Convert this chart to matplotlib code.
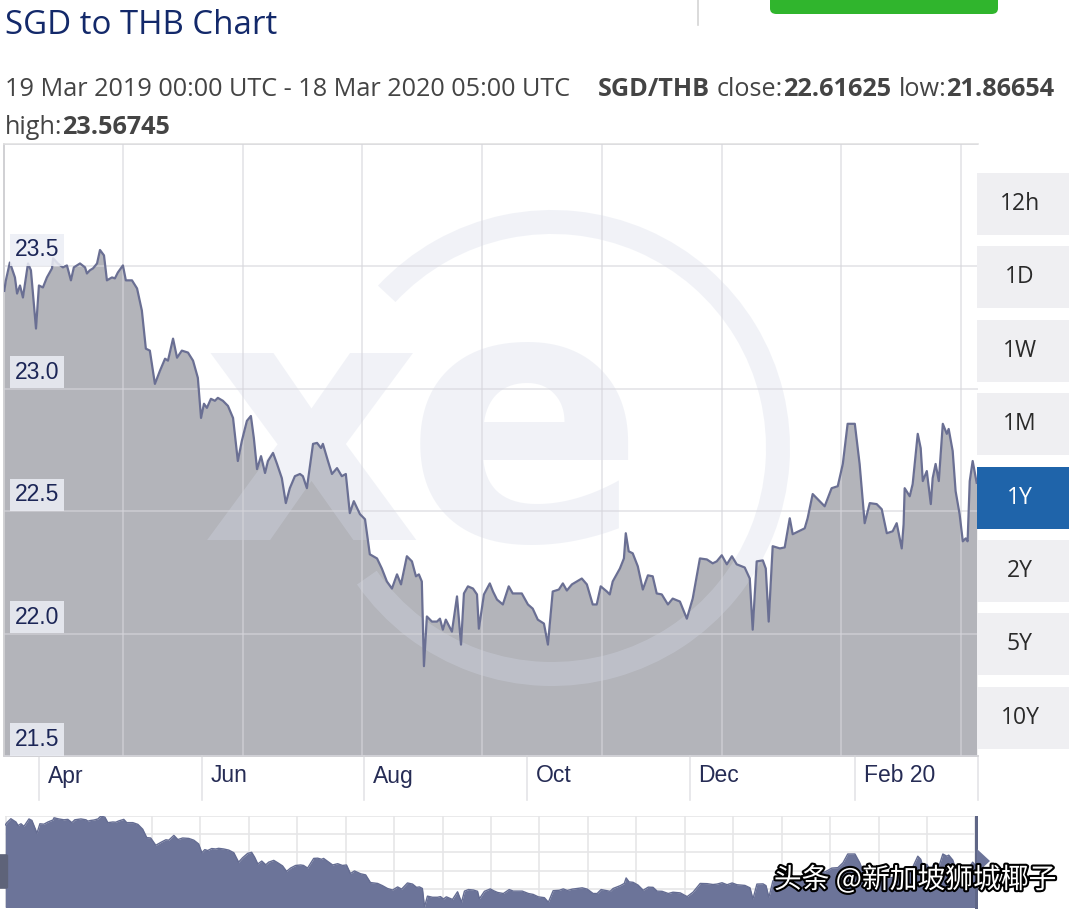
import numpy as np
import pandas as pd
import matplotlib
matplotlib.use('Agg')
import matplotlib.pyplot as plt
import matplotlib.transforms as mtransforms
import matplotlib.patheffects as pe
from matplotlib.patches import Rectangle, FancyBboxPatch, Wedge, Polygon

W, H = 1080, 918


def fx(x):
    return x / W


def fy(y):
    return 1 - y / H


# ---- data ----
start = pd.Timestamp('2019-03-19')
month_starts = ['2019-04-01', '2019-06-01', '2019-08-01', '2019-10-01', '2019-12-01', '2020-02-01']
month_labels = ['Apr', 'Jun', 'Aug', 'Oct', 'Dec', 'Feb 20']
y_ticks = [21.5, 22.0, 22.5, 23.0, 23.5]
range_buttons = ['12h', '1D', '1W', '1M', '1Y', '2Y', '5Y', '10Y']
selected = '1Y'

# days since 19 Mar 2019
days = [0, 0.6, 2.1, 4.0, 4.8, 5.9, 7.0, 8.9, 10.0, 11.9,
        13.0, 14.5, 16.0, 17.9, 18.3, 20.1, 22.0, 23.5, 25.0, 26.1,
        28.4, 30.3, 31.0, 32.1, 33.3, 34.8, 35.9, 37.4, 38.5, 40.4,
        41.5, 42.6, 44.5, 45.6, 47.9, 49.8, 51.6, 53.1, 54.6, 56.5,
        58.4, 60.3, 61.4, 63.3, 64.8, 66.6, 68.9, 70.8, 72.6, 73.8,
        74.9, 76.0, 77.5, 79.0, 80.1, 82.0, 83.9, 85.8, 87.6, 89.1,
        91.0, 92.5, 93.6, 94.8, 96.3, 97.8, 98.9, 100.8, 102.3, 104.1,
        105.6, 107.1, 109.0, 110.9, 112.0, 113.5, 115.8, 117.3, 118.8, 119.5,
        121.4, 122.9, 124.8, 126.6, 128.1, 129.6, 131.1, 133.4, 135.3, 137.1,
        139.8, 141.6, 143.5, 145.4, 147.3, 148.8, 151.0, 152.9, 154.4, 155.5,
        156.6, 157.4, 158.5, 160.4, 162.3, 163.4, 164.5, 165.6, 167.9, 169.8,
        171.3, 172.4, 173.9, 175.8, 177.3, 178.0, 179.9, 182.1, 183.3, 184.8,
        187.0, 189.2, 190.7, 194.1, 196.4, 198.2, 200.1, 202.4, 203.9, 205.7,
        208.0, 209.5, 211.0, 212.9, 216.6, 218.5, 220.7, 222.2, 223.7, 226.0,
        227.1, 228.2, 230.9, 232.4, 233.1, 234.2, 235.7, 237.6, 239.5, 241.4,
        243.2, 244.7, 246.6, 248.9, 250.7, 253.4, 256.0, 258.2, 260.9, 263.5,
        265.7, 267.2, 269.1, 271.0, 272.9, 274.7, 277.7, 279.6, 280.7, 282.2,
        284.5, 285.6, 286.7, 288.2, 290.9, 292.7, 294.6, 295.7, 300.2, 301.3,
        303.2, 305.1, 307.7, 310.3, 312.6, 314.5, 316.3, 319.0, 320.8, 322.7,
        324.6, 327.2, 329.1, 331.0, 333.2, 334.7, 336.6, 337.3, 337.7, 339.6,
        340.7, 342.6, 343.7, 344.5, 346.0, 347.5, 348.2, 349.3, 350.5, 352.0,
        353.5, 354.2, 355.7, 356.8, 358.3, 359.5, 360.6, 361.3, 362.1, 363.2,
        364.7]

rates = [23.400, 23.443, 23.516, 23.455, 23.389, 23.422, 23.373, 23.512, 23.484, 23.246,
         23.422, 23.414, 23.455, 23.492, 23.533, 23.512, 23.496, 23.504, 23.443, 23.496,
         23.512, 23.496, 23.471, 23.484, 23.492, 23.512, 23.567, 23.545, 23.443, 23.455,
         23.451, 23.475, 23.504, 23.443, 23.443, 23.410, 23.320, 23.164, 23.156, 23.020,
         23.074, 23.123, 23.115, 23.205, 23.127, 23.156, 23.148, 23.115, 23.045, 22.881,
         22.939, 22.922, 22.959, 22.951, 22.963, 22.951, 22.930, 22.881, 22.705, 22.787,
         22.869, 22.889, 22.799, 22.672, 22.725, 22.656, 22.705, 22.738, 22.693, 22.635,
         22.533, 22.594, 22.643, 22.652, 22.643, 22.594, 22.775, 22.779, 22.758, 22.775,
         22.705, 22.652, 22.676, 22.643, 22.652, 22.492, 22.541, 22.488, 22.467, 22.324,
         22.307, 22.266, 22.213, 22.184, 22.242, 22.201, 22.316, 22.295, 22.234, 22.242,
         22.213, 21.867, 22.070, 22.049, 22.049, 22.061, 22.016, 22.057, 22.008, 22.152,
         21.955, 22.164, 22.193, 22.184, 22.160, 22.020, 22.160, 22.205, 22.172, 22.139,
         22.119, 22.193, 22.164, 22.164, 22.119, 22.102, 22.057, 22.041, 21.955, 22.172,
         22.180, 22.205, 22.176, 22.201, 22.225, 22.201, 22.119, 22.119, 22.193, 22.172,
         22.160, 22.213, 22.266, 22.307, 22.410, 22.336, 22.328, 22.275, 22.180, 22.238,
         22.234, 22.164, 22.160, 22.119, 22.143, 22.131, 22.061, 22.143, 22.307, 22.303,
         22.287, 22.295, 22.320, 22.283, 22.316, 22.283, 22.270, 22.225, 22.016, 22.295,
         22.299, 22.266, 22.049, 22.357, 22.348, 22.352, 22.471, 22.406, 22.430, 22.471,
         22.570, 22.549, 22.520, 22.594, 22.602, 22.693, 22.857, 22.857, 22.693, 22.451,
         22.533, 22.529, 22.508, 22.410, 22.418, 22.451, 22.348, 22.447, 22.594, 22.561,
         22.611, 22.816, 22.758, 22.623, 22.664, 22.529, 22.635, 22.693, 22.623, 22.857,
         22.816, 22.836, 22.746, 22.582, 22.488, 22.377, 22.389, 22.377, 22.623, 22.705,
         22.616]

assert len(days) == len(rates)

days = np.array(days)
rates = np.array(rates)
tick_days = [(pd.Timestamp(m) - start).days for m in month_starts]

fig = plt.figure(figsize=(W / 100, H / 100), dpi=100)
fig.patch.set_facecolor('white')
px = mtransforms.IdentityTransform()

# ---- main chart ----
ax = fig.add_axes([fx(4), fy(756), fx(978) - fx(4), fy(144) - fy(756)])
ax.set_xlim(-0.1, 365.2)
ax.set_ylim(21.5, 24.0)
ax.set_facecolor('white')

ax.fill_between(days, rates, 21.5, color='#b3b4ba', lw=0, zorder=1)

# xe watermark
wm = (0.83, 0.85, 0.91)
ax.add_patch(Wedge((552, H - 448), 238, -145, 137, width=24, transform=px,
                   color=wm, alpha=0.32, lw=0, zorder=2))
ax.text(312, H - 540, 'x', transform=px, fontsize=245, fontweight='bold',
        family='DejaVu Sans', color=wm, alpha=0.32, ha='center', va='baseline', zorder=2)
ax.text(525, H - 540, 'e', transform=px, fontsize=255, fontweight='bold',
        family='DejaVu Sans', color=wm, alpha=0.32, ha='center', va='baseline', zorder=2)

for v in np.arange(21.5, 24.01, 0.5):
    ax.axhline(v, color='#d6d6dc', alpha=0.6, lw=1.3, zorder=3)
for d in np.arange(44.5, 365, 44.9):
    ax.axvline(d, color='#d6d6dc', alpha=0.6, lw=1.3, zorder=3)

ax.plot(days, rates, color='#6a6f93', lw=1.6, zorder=4, solid_joinstyle='round')

for v in y_ticks:
    ax.annotate(f'{v:.1f}', xy=(0, v), xycoords=('axes fraction', 'data'),
                xytext=(11, 5), textcoords='offset pixels', ha='left', va='bottom',
                fontsize=16.5, family='Liberation Sans', color='#1c2657', zorder=6,
                bbox=dict(boxstyle='square,pad=0.2', fc='#eceef5', ec='none', alpha=0.85))

ax.set_xticks([])
ax.set_yticks([])
ax.spines['right'].set_visible(False)
ax.spines['left'].set_color('#c8c8cc')
ax.spines['top'].set_color('#e2e2e2')
ax.spines['bottom'].set_color('#d0d0d4')
for s in ax.spines.values():
    s.set_linewidth(1.2)

bt = mtransforms.blended_transform_factory(ax.transData, ax.transAxes)
for d, lab in zip(tick_days, month_labels):
    ax.plot([d, d], [0, -0.072], transform=bt, color='#e4e4e8', lw=1.2, clip_on=False)
    ax.annotate(lab, xy=(d, 0), xycoords=bt, xytext=(9, -20), textcoords='offset pixels',
                ha='left', va='center', fontsize=16.5, family='Liberation Sans', color='#262c55')
ax.plot([365.2, 365.2], [0, -0.072], transform=bt, color='#e4e4e8', lw=1.2, clip_on=False)

# ---- navigator ----
nav = fig.add_axes([fx(5), fy(907), fx(978) - fx(5), fy(816) - fy(907)])
nav.set_xlim(-0.1, 365.2)
nav.set_ylim(rates.min(), rates.max())
for v in np.linspace(rates.min(), rates.max(), 6):
    nav.axhline(v, color='#e6e6e8', lw=1.2, zorder=0)
for d in np.arange(0.45, 366, 18.19):
    nav.axvline(d, color='#e6e6e8', lw=1.2, zorder=0)
nav.fill_between(days, rates, rates.min() - 1, color='#6c7499', lw=0, zorder=2)
nav.plot(days, rates, color='#646c92', lw=1.0, zorder=3)
nav.set_xticks([])
nav.set_yticks([])
for s in nav.spines.values():
    s.set_visible(False)

fig.patches.append(FancyBboxPatch((fx(-8), fy(887)), fx(14), fy(856) - fy(887),
                                  boxstyle='round,pad=0.002', transform=fig.transFigure,
                                  fc='#5e6379', ec='none'))
fig.patches.append(Rectangle((fx(975), fy(909)), fx(3), fy(816) - fy(909),
                             transform=fig.transFigure, fc='#5f6686', ec='none'))
fig.patches.append(Polygon([(fx(977), fy(849)), (fx(990), fy(861)), (fx(977), fy(873))],
                           closed=True, transform=fig.transFigure, fc='#6c7499', ec='none'))

# ---- range buttons ----
for i, lab in enumerate(range_buttons):
    cy = 204 + i * 73.4
    on = lab == selected
    fig.patches.append(Rectangle((fx(977), fy(cy + 31)), fx(92), fy(cy - 31) - fy(cy + 31),
                                 transform=fig.transFigure,
                                 fc='#1f64aa' if on else '#efeff2', ec='none'))
    fig.text(fx(1020), fy(cy), lab, ha='center', va='center', fontsize=16.5,
             family='Open Sans', color='white' if on else '#2a2a2a')

# ---- header ----
fig.text(fx(5), fy(25), 'SGD to THB Chart', ha='left', va='center', fontsize=23.8,
         family='Open Sans', color='#13296a')
fig.patches.append(FancyBboxPatch((fx(770), fy(14)), fx(228), fy(-20) - fy(14),
                                  boxstyle='round,pad=0,rounding_size=0.006',
                                  transform=fig.transFigure, fc='#30b52d', ec='none'))
fig.lines.append(plt.Line2D([fx(698), fx(698)], [fy(0), fy(25)], transform=fig.transFigure,
                            color='#d4d4d4', lw=1.2))

renderer = fig.canvas.get_renderer()


def text_runs(x, y, parts, size=18.2):
    for s, w, gap in parts:
        t = fig.text(fx(x), fy(y), s, ha='left', va='center', fontsize=size,
                     fontweight=w, family='Open Sans', color='#444444')
        x += t.get_window_extent(renderer).width + gap


text_runs(5, 90, [('19 Mar 2019 00:00 UTC - 18 Mar 2020 05:00 UTC', 'normal', 0)])
text_runs(598, 90, [('SGD/THB', 'bold', 7), ('close:', 'normal', 0), ('22.61625', 'bold', 7),
                    ('low:', 'normal', 0), ('21.86654', 'bold', 0)])
text_runs(5, 128, [('high:', 'normal', 0), ('23.56745', 'bold', 0)])

# ---- source watermark ----
fig.text(fx(915), fy(880), '头条 @新加坡狮城椰子', ha='center', va='center', fontsize=20,
         family=['Noto Sans CJK SC', 'DejaVu Sans'], color='white',
         path_effects=[pe.withStroke(linewidth=3, foreground='black')])

fig.savefig('out.png', dpi=100)
